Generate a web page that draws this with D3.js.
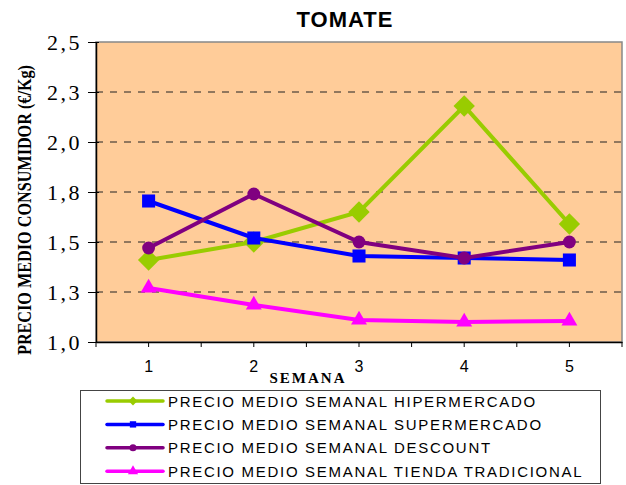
<!DOCTYPE html>
<html>
<head>
<meta charset="utf-8">
<script src="https://cdn.jsdelivr.net/npm/d3@7"></script>
<style>
  body { margin: 0; background: #fff; }
  svg { display: block; }
</style>
</head>
<body>
<script>
// data
var semanas = ["1", "2", "3", "4", "5"];
var hiper = [1.41, 1.50, 1.65, 2.18, 1.59];
var superm = [1.705, 1.52, 1.43, 1.42, 1.41];
var descount = [1.47, 1.74, 1.50, 1.42, 1.50];
var tradicional = [1.27, 1.185, 1.11, 1.10, 1.105];
var yTicks = [1.0, 1.25, 1.5, 1.75, 2.0, 2.25, 2.5];
var yTickLabels = ["1,0", "1,3", "1,5", "1,8", "2,0", "2,3", "2,5"];
var seriesNames = ["PRECIO MEDIO SEMANAL HIPERMERCADO", "PRECIO MEDIO SEMANAL SUPERMERCADO",
                   "PRECIO MEDIO SEMANAL DESCOUNT", "PRECIO MEDIO SEMANAL TIENDA TRADICIONAL"];

var series = [
  {name: seriesNames[0], values: hiper, color: "#99CC00", shape: d3.symbolDiamond2, size: 290, lsize: 50},
  {name: seriesNames[1], values: superm, color: "#0000FF", shape: d3.symbolSquare, size: 170, lsize: 40},
  {name: seriesNames[2], values: descount, color: "#800080", shape: d3.symbolCircle, size: 130, lsize: 40},
  {name: seriesNames[3], values: tradicional, color: "#FF00FF", shape: d3.symbolTriangle, size: 110, lsize: 45}
];

var W = 626, H = 485;
var margin = {top: 42, right: 4, bottom: 143, left: 96};
var pw = W - margin.left - margin.right,
    ph = H - margin.top - margin.bottom;

var svg = d3.select("body").append("svg")
    .attr("width", W)
    .attr("height", H);

var x = d3.scaleBand().domain(semanas).range([0, pw]).padding(0);
var y = d3.scaleLinear().domain([1.0, 2.5]).range([ph, 0]);

var g = svg.append("g").attr("transform", "translate(" + margin.left + "," + margin.top + ")");

//plot area
g.append("rect")
    .attr("width", pw).attr("height", ph)
    .attr("fill", "#FFCC99")
    .attr("stroke", "#888").attr("stroke-width", 1.5);

//dashed gridlines
g.selectAll(".grid")
    .data(yTicks.slice(1, -1))
    .enter().append("line")
    .attr("x1", 0).attr("x2", pw)
    .attr("y1", function(d) { return y(d); })
    .attr("y2", function(d) { return y(d); })
    .attr("stroke", "#222").attr("stroke-width", 1)
    .attr("stroke-dasharray", "7,7");

//y axis
var yAxis = g.append("g")
    .call(d3.axisLeft(y).tickValues(yTicks)
        .tickFormat(function(d, i) { return yTickLabels[i]; })
        .tickSizeInner(8).tickSizeOuter(0).tickPadding(6));
yAxis.select(".domain").attr("stroke", "#000").attr("stroke-width", 1.5);
yAxis.selectAll(".tick line").attr("stroke", "#000").attr("x2", -8).attr("x1", 3);
yAxis.selectAll("text")
    .style("font-family", "'Liberation Serif', 'Times New Roman', serif")
    .style("font-size", "22px")
    .style("letter-spacing", "2.5px")
    .attr("fill", "#000");

//x axis: ticks at category centres and boundaries
var xAxis = g.append("g").attr("transform", "translate(0," + ph + ")")
    .call(d3.axisBottom(x).tickSize(5).tickSizeOuter(0).tickPadding(14));
xAxis.select(".domain").attr("stroke", "#000").attr("stroke-width", 1.5);
xAxis.selectAll("text")
    .style("font-family", "'Liberation Sans', Arial, sans-serif")
    .style("font-size", "16px")
    .attr("fill", "#000");
xAxis.selectAll(".bound")
    .data(d3.range(semanas.length + 1))
    .enter().append("line")
    .attr("x1", function(i) { return i * x.step(); })
    .attr("x2", function(i) { return i * x.step(); })
    .attr("y1", 0).attr("y2", 5)
    .attr("stroke", "#000");

//lines and markers
var line = d3.line()
    .x(function(d, i) { return x(semanas[i]) + x.bandwidth() / 2; })
    .y(function(d) { return y(d); });

series.forEach(function(s) {
  g.append("path")
      .datum(s.values)
      .attr("d", line)
      .attr("fill", "none")
      .attr("stroke", s.color)
      .attr("stroke-width", 4);
  g.selectAll(null)
      .data(s.values)
      .enter().append("path")
      .attr("d", d3.symbol().type(s.shape).size(s.size))
      .attr("transform", function(d, i) {
        return "translate(" + (x(semanas[i]) + x.bandwidth() / 2) + "," + y(d) + ")";
      })
      .attr("fill", s.color);
});

//title
svg.append("text")
    .attr("x", 345).attr("y", 27)
    .attr("text-anchor", "middle")
    .style("font-family", "'Liberation Sans', Arial, sans-serif")
    .style("font-weight", "bold")
    .style("font-size", "22px")
    .style("letter-spacing", "1px")
    .text("TOMATE");

//axis titles
svg.append("text")
    .attr("transform", "translate(31,210) rotate(-90)")
    .attr("text-anchor", "middle")
    .attr("textLength", 290)
    .attr("lengthAdjust", "spacingAndGlyphs")
    .style("font-family", "'Liberation Serif', 'Times New Roman', serif")
    .style("font-weight", "bold")
    .style("font-size", "19px")
    .text("PRECIO MEDIO CONSUMIDOR  (€/Kg)");

svg.append("text")
    .attr("x", 308).attr("y", 383)
    .attr("text-anchor", "middle")
    .style("font-family", "'Liberation Serif', 'Times New Roman', serif")
    .style("font-weight", "bold")
    .style("font-size", "15px")
    .style("letter-spacing", "2px")
    .text("SEMANA");

//legend
var legend = svg.append("g");
legend.append("rect")
    .attr("x", 80.5).attr("y", 390.5)
    .attr("width", 520).attr("height", 93)
    .attr("fill", "#fff").attr("stroke", "#444").attr("stroke-width", 1);

var rows = legend.selectAll(".row")
    .data(series)
    .enter().append("g")
    .attr("transform", function(d, i) { return "translate(0," + (401 + i * 23.4) + ")"; });
rows.append("line")
    .attr("x1", 107).attr("x2", 163)
    .attr("stroke", function(d) { return d.color; })
    .attr("stroke-width", 3.5)
    .attr("stroke-linecap", "round");
rows.append("path")
    .attr("d", function(d) { return d3.symbol().type(d.shape).size(d.lsize)(); })
    .attr("transform", "translate(133,0)")
    .attr("fill", function(d) { return d.color; });
rows.append("text")
    .attr("x", 168).attr("y", 5.5)
    .style("font-family", "'Liberation Sans', Arial, sans-serif")
    .style("font-size", "15px")
    .style("letter-spacing", "1.7px")
    .text(function(d) { return d.name; });
</script>
</body>
</html>
